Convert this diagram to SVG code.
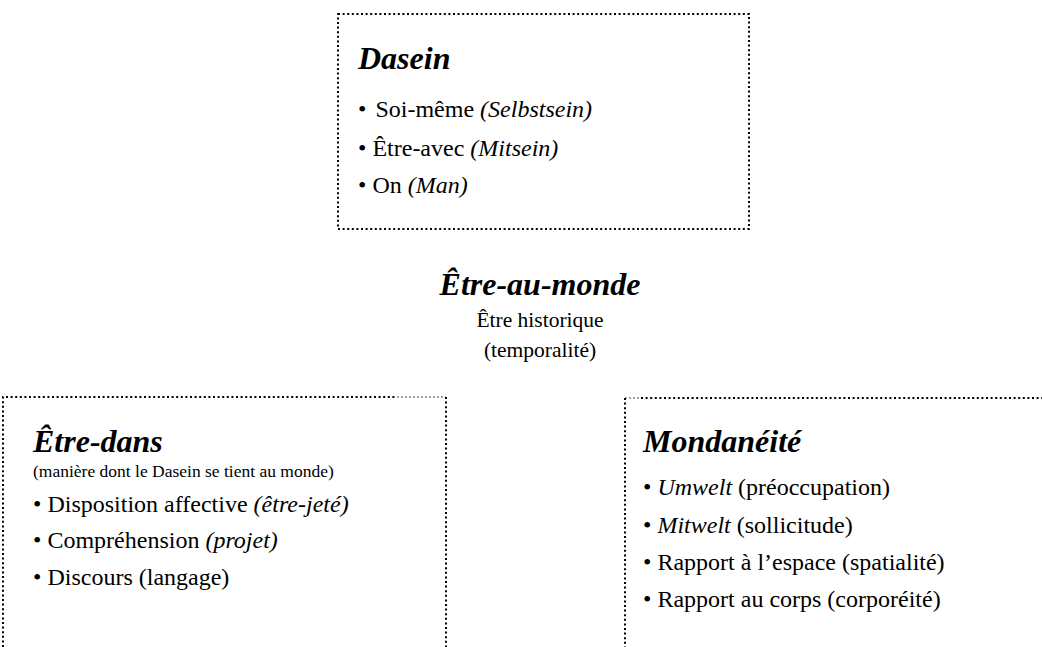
<svg xmlns="http://www.w3.org/2000/svg" width="1042" height="647" viewBox="0 0 1042 647">
<style>
text{font-family:"Liberation Serif","Times New Roman",serif;fill:#000}
.h{font-size:32px;font-weight:bold;font-style:italic}
.b{font-size:24px}
.s{font-size:17.5px}
.m{font-size:21.5px}
.i{font-style:italic}
.dot{fill:none;stroke:#000;stroke-width:2;stroke-dasharray:2 2.6}
.lt{fill:none;stroke:#444;stroke-width:1;stroke-dasharray:2 2}
</style>
<rect width="1042" height="647" fill="#fff"/>
<g id="dasein">
<rect class="dot" x="338" y="14" width="411" height="215"/>
<text class="h" x="358" y="69">Dasein</text>
<text class="b" x="358" y="117">•<tspan dx="3"> Soi-même </tspan><tspan class="i">(Selbstsein)</tspan></text>
<text class="b" x="358" y="156">• Être-avec <tspan class="i">(Mitsein)</tspan></text>
<text class="b" x="358" y="193">• On <tspan class="i">(Man)</tspan></text>
</g>
<g id="etre-au-monde">
<text class="h" x="540" y="295" text-anchor="middle">Être-au-monde</text>
<text class="m" x="540" y="327" text-anchor="middle">Être historique</text>
<text class="m" x="540" y="357" text-anchor="middle">(temporalité)</text>
</g>
<g id="etre-dans">
<path class="dot" d="M3,647 V397 H397"/>
<path class="lt" d="M397,397 H446"/>
<path class="dot" d="M446,397 V647"/>
<text class="h" x="33" y="452">Être-dans</text>
<text class="s" x="33" y="477">(manière dont le Dasein se tient au monde)</text>
<text class="b" x="33" y="512">• Disposition affective <tspan class="i">(être-jeté)</tspan></text>
<text class="b" x="33" y="548">• Compréhension <tspan class="i">(projet)</tspan></text>
<text class="b" x="33" y="585">• Discours (langage)</text>
</g>
<g id="mondaneite">
<path class="lt" d="M625,398 H641"/>
<path class="dot" d="M641,398 H1042"/>
<path class="dot" d="M625,398 V647"/>
<text class="h" x="643" y="452">Mondanéité</text>
<text class="b" x="643" y="495">• <tspan class="i">Umwelt</tspan> (préoccupation)</text>
<text class="b" x="643" y="533">• <tspan class="i">Mitwelt</tspan> (sollicitude)</text>
<text class="b" x="643" y="570">• Rapport à l’espace (spatialité)</text>
<text class="b" x="643" y="607">• Rapport au corps (corporéité)</text>
</g>
<g id="connectors"/>
</svg>
